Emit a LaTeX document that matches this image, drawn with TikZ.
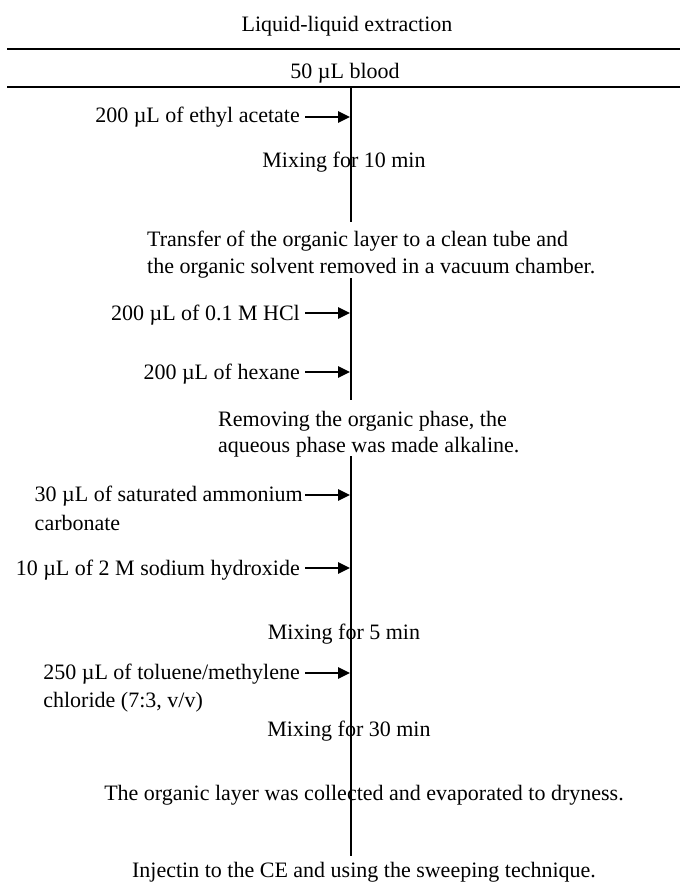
\documentclass[tikz,border=0pt]{standalone}
\usepackage{fontspec}
\setmainfont{Liberation Serif}
\usetikzlibrary{arrows.meta}
\begin{document}
\begin{tikzpicture}[x=1pt,y=-1pt,
  txt/.style={inner sep=0pt,anchor=base,font=\fontsize{22}{26}\selectfont},
  ltxt/.style={txt,anchor=base east},
  wtxt/.style={txt,anchor=base west},
  addarrow/.style={-{Triangle[length=12pt,width=11pt]},line width=2.5pt},
  rule/.style={line width=1.3pt},
  vline/.style={line width=1.2pt}]
\useasboundingbox (0,0) rectangle (680,885);
% header
\node[txt] (title) at (347,32) {Liquid-liquid extraction};
\coordinate (r1l) at (7,49); \coordinate (r1r) at (680,49);
\draw[rule] (r1l) -- (r1r);
\node[txt] (blood) at (345,79) {50 µL blood};
\coordinate (r2l) at (7,87); \coordinate (r2r) at (680,87);
\draw[rule] (r2l) -- (r2r);
% main line coordinates
\coordinate (v0) at (351,87);
\coordinate (v1) at (351,222);
\coordinate (v2) at (351,278);
\coordinate (v3) at (351,400);
\coordinate (v4) at (351,456);
\coordinate (v5) at (351,856);
\draw[vline] (v0) -- (v1);
\draw[vline] (v2) -- (v3);
\draw[vline] (v4) -- (v5);
% step texts
\node[txt] (mix10) at (344,168) {Mixing for 10 min};
\node[wtxt] (tr1) at (147,246) {Transfer of the organic layer to a clean tube and};
\node[wtxt] (tr2) at (147,273) {the organic solvent removed in a vacuum chamber.};
\node[wtxt] (rm1) at (218,426) {Removing the organic phase, the};
\node[wtxt] (rm2) at (218,452) {aqueous phase was made alkaline.};
\node[txt] (mix5) at (344,639) {Mixing for 5 min};
\node[txt] (mix30) at (349,736) {Mixing for 30 min};
\node[txt] (evap) at (364,800) {The organic layer was collected and evaporated to dryness.};
\node[txt] (inj) at (364,877) {Injectin to the CE and using the sweeping technique.};
% additions
\node[ltxt] (a1) at (300,123) {200 µL of ethyl acetate};
\coordinate (t1) at (350,117);
\draw[addarrow] (a1.east |- t1) ++(5,0) -- (t1);
\node[ltxt] (a2) at (300,320) {200 µL of 0.1 M HCl};
\coordinate (t2) at (350,313);
\draw[addarrow] (a2.east |- t2) ++(5,0) -- (t2);
\node[ltxt] (a3) at (300,379) {200 µL of hexane};
\coordinate (t3) at (350,372);
\draw[addarrow] (a3.east |- t3) ++(5,0) -- (t3);
\node[ltxt] (a4) at (303,501) {30 µL of saturated ammonium};
\node[wtxt] (a4b) at (a4.base west) [yshift=-29pt] {carbonate};
\coordinate (t4) at (350,495);
\draw[addarrow] (a4.east |- t4) ++(2,0) -- (t4);
\node[ltxt] (a5) at (300,575) {10 µL of 2 M sodium hydroxide};
\coordinate (t5) at (350,568);
\draw[addarrow] (a5.east |- t5) ++(5,0) -- (t5);
\node[ltxt] (a6) at (300,679) {250 µL of toluene/methylene};
\node[wtxt] (a6b) at (a6.base west) [yshift=-28pt] {chloride (7:3, v/v)};
\coordinate (t6) at (350,673);
\draw[addarrow] (a6.east |- t6) ++(5,0) -- (t6);
\end{tikzpicture}
\end{document}
